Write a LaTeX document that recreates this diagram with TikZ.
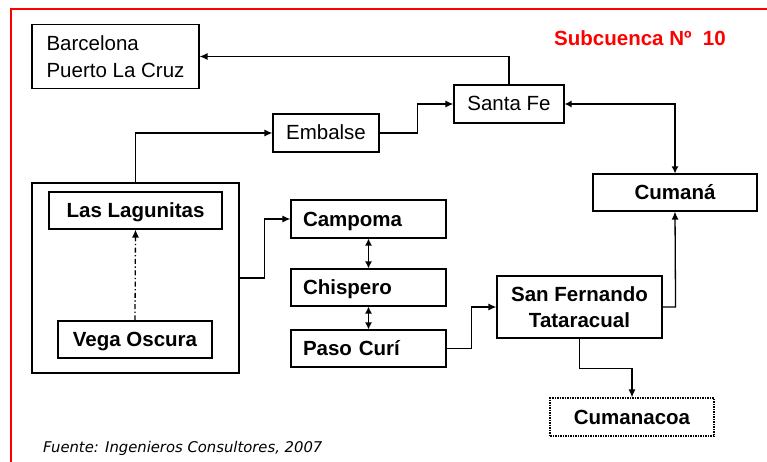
\documentclass[tikz,border=0pt]{standalone}
\usepackage{fontspec}
\setmainfont{Liberation Sans}
\newfontfamily\notefont{DejaVu Sans}
\usetikzlibrary{arrows.meta}
\tikzset{
  box/.style={draw,line width=1.1pt,inner sep=0pt,align=center,font=\fontsize{20.5}{26.5}\selectfont},
  boldbox/.style={box,font=\fontsize{20.5}{26.5}\selectfont\bfseries},
  oneline/.style={text height=14pt,text depth=0pt},
  leftbox/.style={boldbox,oneline,align=left,text width=131pt,inner xsep=12pt},
  arr/.style={line width=1.3pt,-{Latex[length=8pt,width=7pt]}},
  twoarr/.style={line width=1.3pt,{Latex[length=7pt,width=7pt]}-{Latex[length=7pt,width=7pt]}}
}
\begin{document}
\begin{tikzpicture}[x=1pt,y=-1pt]
  \useasboundingbox (0,0) rectangle (767,462);
  \clip (0,0) rectangle (767,462);
  % marco rojo
  \draw[red,line width=1.3pt] (11,480) |- (790,9);
  \node[text=red,font=\fontsize{20.5}{24}\selectfont\bfseries] (subc) at (640,38) {Subcuenca Nº\ \ 10};
  % nodos
  \node[box,align=left,minimum width=167pt,minimum height=64pt] (barc) at (115.5,56.5) {Barcelona\\Puerto La Cruz};
  \node[box,oneline,minimum width=110pt,minimum height=38pt] (santa) at (509,104) {Santa Fe};
  \node[box,oneline,minimum width=106pt,minimum height=38pt] (embalse) at (326,133) {Embalse};
  \node[draw,line width=1.1pt,minimum width=207pt,minimum height=190pt] (lagos) at (135.5,278) {};
  \node[boldbox,oneline,minimum width=173pt,minimum height=37pt] (lagun) at (135.5,210.5) {Las Lagunitas};
  \node[boldbox,oneline,minimum width=154pt,minimum height=37pt] (vega) at (135,339.5) {Vega Oscura};
  \node[leftbox,minimum height=38pt] (campoma) at (368.5,219) {Campoma};
  \node[leftbox,minimum height=37pt] (chisp) at (368.5,287.5) {Chispero};
  \node[leftbox,minimum height=37pt] (paso) at (368.5,348.5) {Paso Curí};
  \node[boldbox,minimum width=165pt,minimum height=62pt] (sanf) at (579.5,307) {San Fernando\\Tataracual};
  \node[boldbox,oneline,minimum width=164pt,minimum height=37pt] (cumana) at (675,192.5) {Cumaná};
  \node[boldbox,oneline,dash pattern=on 1.5pt off 1pt,minimum width=164pt,minimum height=38pt] (cumanacoa) at (632,417) {Cumanacoa};
  \node[anchor=west,inner sep=0pt,font=\notefont\fontsize{14.8}{17}\selectfont\itshape] (fuente) at (43,448) {Fuente: Ingenieros Consultores, 2007};
  % conexiones
  \draw[arr] (santa.north) |- (barc.east);
  \draw[arr] (embalse.east) -- ++(38,0) |- (santa.west);
  \draw[arr] (lagos.north) |- (embalse.west);
  \draw[arr,dash pattern=on 5pt off 2.5pt on 1.3pt off 2.5pt] (vega.north) -- (lagun.south);
  \draw[arr] (lagos.east) -- ++(25,0) |- (campoma.west);
  \draw[twoarr] (campoma.south) -- (chisp.north);
  \draw[twoarr] (chisp.south) -- (paso.north);
  \draw[arr] (paso.east) -- ++(25,0) |- (sanf.west);
  \draw[arr] (sanf.east) -- ++(13,0) -- (cumana.south);
  \draw[twoarr] (santa.east) -| (cumana.north);
  \draw[arr] (sanf.south) -- ++(0,30) -| (cumanacoa.north);
\end{tikzpicture}
\end{document}
